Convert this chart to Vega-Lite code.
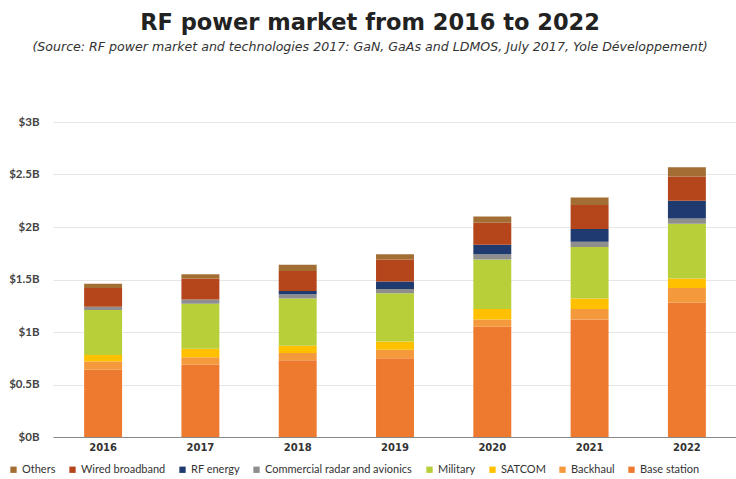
{
  "$schema": "https://vega.github.io/schema/vega-lite/v6.json",
  "autosize": "none",
  "width": 684,
  "height": 315,
  "padding": {"left": 53, "top": 122, "right": 0, "bottom": 42},
  "background": "white",
  "title": {
    "text": "RF power market from 2016 to 2022",
    "subtitle": "(Source: RF power market and technologies 2017: GaN, GaAs and LDMOS, July 2017, Yole Développement)",
    "font": "DejaVu Sans",
    "fontSize": 22.5,
    "fontWeight": "bold",
    "color": "#222222",
    "subtitleFont": "DejaVu Sans",
    "subtitleFontSize": 12.6,
    "subtitleFontStyle": "italic",
    "subtitleColor": "#333333",
    "subtitlePadding": 7,
    "anchor": "middle",
    "dx": -25,
    "offset": 62
  },
  "data": {
    "values": [
      {"year": "2016", "segment": "Base station", "value": 0.64},
      {"year": "2016", "segment": "Backhaul", "value": 0.08},
      {"year": "2016", "segment": "SATCOM", "value": 0.06},
      {"year": "2016", "segment": "Military", "value": 0.43},
      {"year": "2016", "segment": "Commercial radar and avionics", "value": 0.03},
      {"year": "2016", "segment": "RF energy", "value": 0.0},
      {"year": "2016", "segment": "Wired broadband", "value": 0.18},
      {"year": "2016", "segment": "Others", "value": 0.04},
      {"year": "2017", "segment": "Base station", "value": 0.69},
      {"year": "2017", "segment": "Backhaul", "value": 0.07},
      {"year": "2017", "segment": "SATCOM", "value": 0.08},
      {"year": "2017", "segment": "Military", "value": 0.43},
      {"year": "2017", "segment": "Commercial radar and avionics", "value": 0.04},
      {"year": "2017", "segment": "RF energy", "value": 0.0},
      {"year": "2017", "segment": "Wired broadband", "value": 0.2},
      {"year": "2017", "segment": "Others", "value": 0.04},
      {"year": "2018", "segment": "Base station", "value": 0.73},
      {"year": "2018", "segment": "Backhaul", "value": 0.07},
      {"year": "2018", "segment": "SATCOM", "value": 0.07},
      {"year": "2018", "segment": "Military", "value": 0.45},
      {"year": "2018", "segment": "Commercial radar and avionics", "value": 0.04},
      {"year": "2018", "segment": "RF energy", "value": 0.03},
      {"year": "2018", "segment": "Wired broadband", "value": 0.19},
      {"year": "2018", "segment": "Others", "value": 0.06},
      {"year": "2019", "segment": "Base station", "value": 0.75},
      {"year": "2019", "segment": "Backhaul", "value": 0.08},
      {"year": "2019", "segment": "SATCOM", "value": 0.08},
      {"year": "2019", "segment": "Military", "value": 0.46},
      {"year": "2019", "segment": "Commercial radar and avionics", "value": 0.04},
      {"year": "2019", "segment": "RF energy", "value": 0.07},
      {"year": "2019", "segment": "Wired broadband", "value": 0.21},
      {"year": "2019", "segment": "Others", "value": 0.05},
      {"year": "2020", "segment": "Base station", "value": 1.05},
      {"year": "2020", "segment": "Backhaul", "value": 0.07},
      {"year": "2020", "segment": "SATCOM", "value": 0.1},
      {"year": "2020", "segment": "Military", "value": 0.47},
      {"year": "2020", "segment": "Commercial radar and avionics", "value": 0.05},
      {"year": "2020", "segment": "RF energy", "value": 0.09},
      {"year": "2020", "segment": "Wired broadband", "value": 0.21},
      {"year": "2020", "segment": "Others", "value": 0.06},
      {"year": "2021", "segment": "Base station", "value": 1.12},
      {"year": "2021", "segment": "Backhaul", "value": 0.1},
      {"year": "2021", "segment": "SATCOM", "value": 0.1},
      {"year": "2021", "segment": "Military", "value": 0.49},
      {"year": "2021", "segment": "Commercial radar and avionics", "value": 0.05},
      {"year": "2021", "segment": "RF energy", "value": 0.12},
      {"year": "2021", "segment": "Wired broadband", "value": 0.23},
      {"year": "2021", "segment": "Others", "value": 0.07},
      {"year": "2022", "segment": "Base station", "value": 1.28},
      {"year": "2022", "segment": "Backhaul", "value": 0.14},
      {"year": "2022", "segment": "SATCOM", "value": 0.09},
      {"year": "2022", "segment": "Military", "value": 0.52},
      {"year": "2022", "segment": "Commercial radar and avionics", "value": 0.05},
      {"year": "2022", "segment": "RF energy", "value": 0.17},
      {"year": "2022", "segment": "Wired broadband", "value": 0.23},
      {"year": "2022", "segment": "Others", "value": 0.09}
    ]
  },
  "transform": [
    {"calculate": "indexof(['Base station','Backhaul','SATCOM','Military','Commercial radar and avionics','RF energy','Wired broadband','Others'], datum.segment)", "as": "stackIdx"}
  ],
  "mark": {"type": "bar"},
  "encoding": {
    "x": {
      "field": "year",
      "type": "ordinal",
      "title": null,
      "scale": {"paddingInner": 0.61, "paddingOuter": 0.32},
      "axis": {
        "labelAngle": 0,
        "labelFont": "DejaVu Sans",
        "labelFontSize": 10,
        "labelFontWeight": "bold",
        "labelColor": "#333333",
        "labelPadding": 5,
        "ticks": false,
        "domainColor": "#888888",
        "domainWidth": 1
      }
    },
    "y": {
      "field": "value",
      "type": "quantitative",
      "aggregate": "sum",
      "title": null,
      "stack": "zero",
      "scale": {"domain": [0, 3], "nice": false},
      "axis": {
        "values": [0, 0.5, 1, 1.5, 2, 2.5, 3],
        "labelExpr": "'$' + datum.value + 'B'",
        "labelFont": "Lato",
        "labelFontSize": 11.5,
        "labelFontWeight": "bold",
        "labelColor": "#444444",
        "labelPadding": 14,
        "ticks": false,
        "domain": false,
        "grid": true,
        "gridColor": "#e6e6e6",
        "gridWidth": 1
      }
    },
    "color": {
      "field": "segment",
      "type": "nominal",
      "title": null,
      "scale": {
        "domain": ["Others", "Wired broadband", "RF energy", "Commercial radar and avionics", "Military", "SATCOM", "Backhaul", "Base station"],
        "range": ["#A36E33", "#B5451B", "#1F3A6E", "#8E8E8E", "#B8CF3A", "#FFC000", "#F49A3C", "#EE7A30"]
      },
      "legend": {
        "orient": "none",
        "legendX": -45,
        "legendY": 342,
        "direction": "horizontal",
        "symbolType": "square",
        "symbolSize": 40,
        "symbolStrokeWidth": 0,
        "labelFont": "Lato",
        "labelFontSize": 11,
        "labelColor": "#333333",
        "columnPadding": 11,
        "labelOffset": 3
      }
    },
    "order": {"field": "stackIdx", "type": "quantitative", "sort": "ascending"}
  },
  "config": {
    "view": {"stroke": null}
  }
}
